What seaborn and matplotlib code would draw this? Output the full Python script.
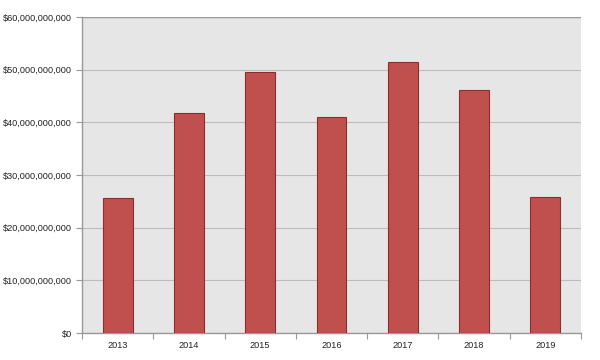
import matplotlib
matplotlib.use("Agg")
import matplotlib.pyplot as plt
import matplotlib.ticker as mticker
import seaborn as sns
import pandas as pd
import numpy as np

years = ["2013", "2014", "2015", "2016", "2017", "2018", "2019"]
values = [25.6e9, 41.8e9, 49.6e9, 41.0e9, 51.5e9, 46.1e9, 25.8e9]
y_ticks = [0, 10e9, 20e9, 30e9, 40e9, 50e9, 60e9]

sns.set_style("white")
plt.rcParams['font.family'] = ['Liberation Sans', 'DejaVu Sans']

df = pd.DataFrame({"year": years, "value": values})

fig = plt.figure(figsize=(6, 3.6), dpi=100)
ax = fig.add_axes([82/600, 1-333/360, (581-82)/600, (333-17)/360])
ax.set_facecolor("#E6E6E6")

sns.barplot(data=df, x="year", y="value", color="#C0504D", width=0.42,
            edgecolor="#8C2F2C", linewidth=0.8, ax=ax, saturation=1, zorder=3)

ax.set_xlim(-0.5, len(years) - 0.5)
ax.set_ylim(0, 60e9)
ax.set_yticks(y_ticks)
ax.yaxis.set_major_formatter(mticker.FuncFormatter(lambda v, p: f"${v:,.0f}"))
ax.grid(axis="y", color="#BDBDBD", linewidth=0.8, zorder=0)
ax.set_axisbelow(True)

ax.set_xticks(np.arange(-0.5, len(years)), minor=True)
ax.tick_params(axis="x", which="major", bottom=True, length=0, labelsize=6.6, colors="#222222", pad=6)
ax.tick_params(axis="x", which="minor", bottom=True, length=4, color="#999999", width=0.8, direction="out")
ax.tick_params(axis="y", left=True, length=4, color="#999999", width=0.8, labelsize=6.6, labelcolor="#222222", direction="out", pad=3)

for s in ["top", "right"]:
    ax.spines[s].set_visible(False)
for s in ["left", "bottom"]:
    ax.spines[s].set_color("#999999")
    ax.spines[s].set_linewidth(1.0)
ax.axhline(60e9, color="#999999", linewidth=1.0, zorder=2)

ax.set_xlabel("")
ax.set_ylabel("")

fig.savefig("out.png", dpi=100)
